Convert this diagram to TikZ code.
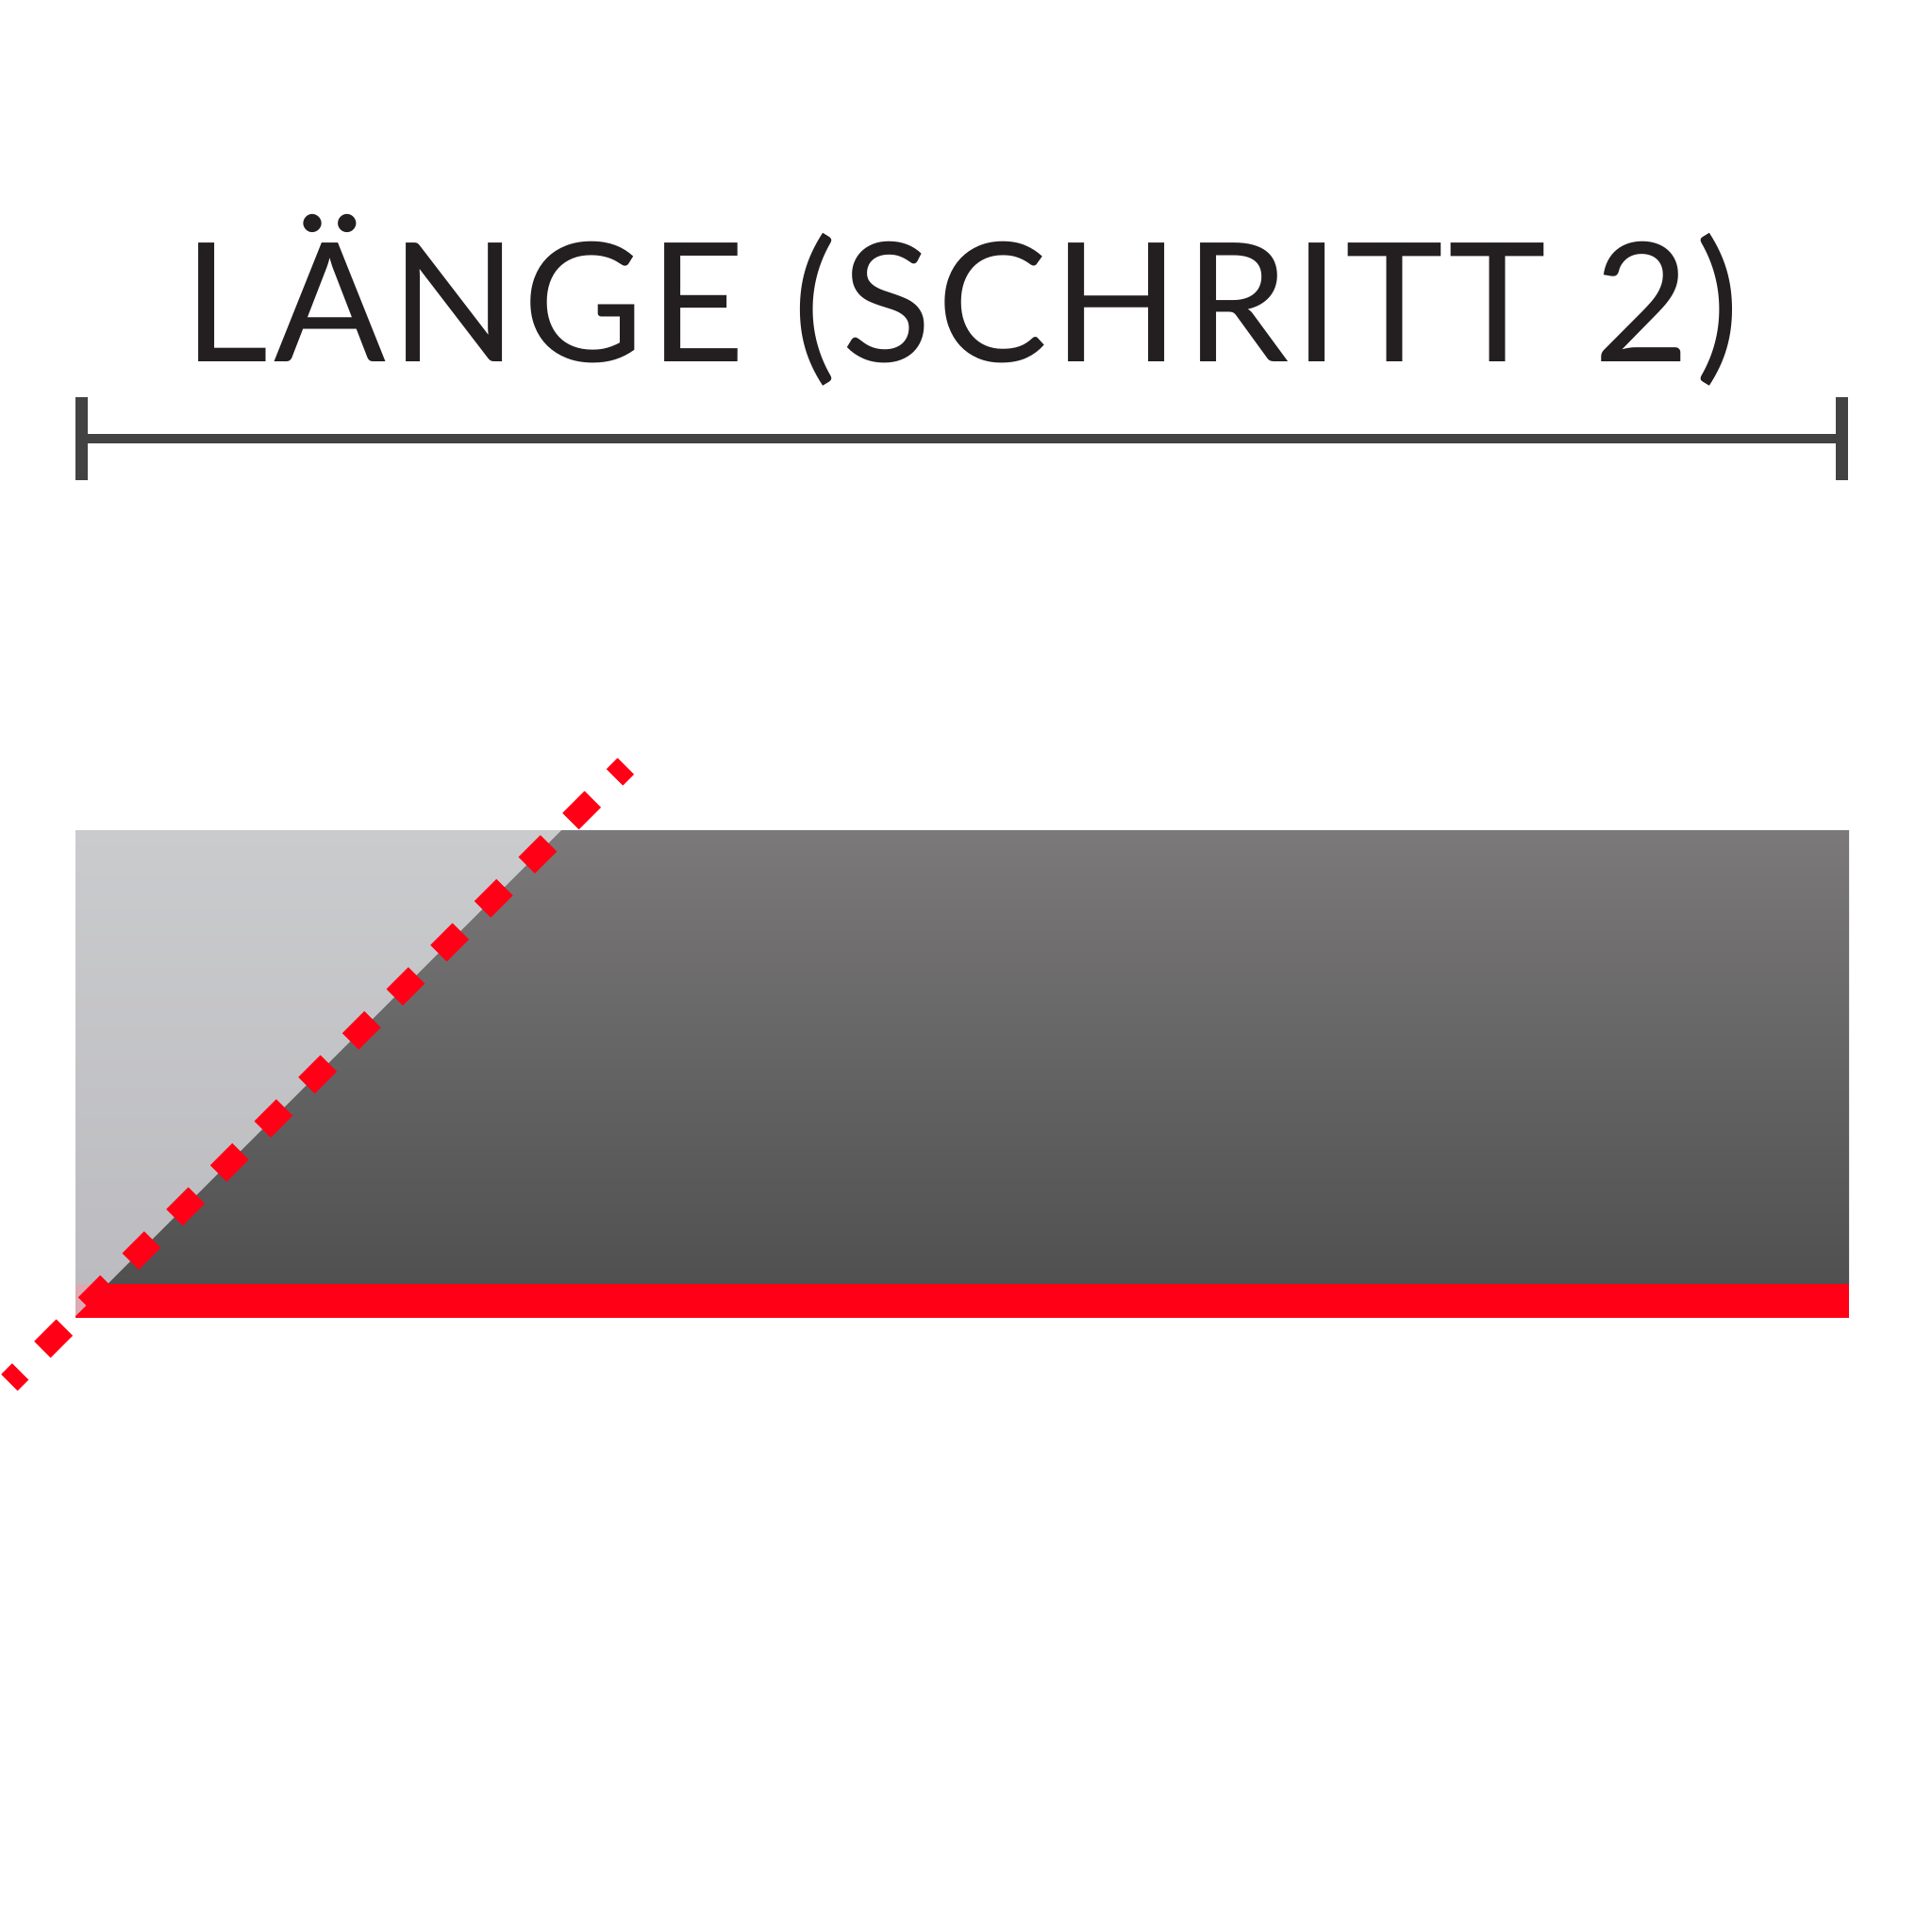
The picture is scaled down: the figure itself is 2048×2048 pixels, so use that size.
\documentclass[tikz,border=0pt]{standalone}
\usepackage{fontspec}
\setmainfont{Lato}
\definecolor{txtblack}{HTML}{231F20}
\definecolor{dimgray}{HTML}{424242}
\definecolor{darktop}{HTML}{7B797A}
\definecolor{darkbot}{HTML}{505050}
\definecolor{lighttop}{HTML}{CACBCD}
\definecolor{lightbot}{HTML}{BCBCC0}
\definecolor{barred}{HTML}{FF0016}
\definecolor{barpink}{HTML}{DDAAB3}
\tikzset{
    dimline/.style={draw=dimgray, line width=0.93mm},
    dimtick/.style={draw=dimgray, line width=1.33mm},
    reddash/.style={draw=barred, line width=2.45mm,
        dash pattern=on 3.3mm off 3.3mm, dash phase=1.65mm}
}

\begin{document}
\begin{tikzpicture}[x=0.1mm, y=-0.1mm]
    \useasboundingbox (0,0) rectangle (2048,2048);
    \node[anchor=base, text=txtblack, font=\fontsize{50}{60}\selectfont\addfontfeature{LetterSpace=3.1}, inner sep=0pt] (title) at (1019,384) {LÄNGE (SCHRITT 2)};
    \coordinate (dimL) at (86.5,465);
    \coordinate (dimR) at (1952.5,465);
    \draw[dimline] (dimL) -- (dimR);
    \draw[dimtick] ([yshift=-4.4mm]dimL) -- ([yshift=4.4mm]dimL);
    \draw[dimtick] ([yshift=-4.4mm]dimR) -- ([yshift=4.4mm]dimR);
    \shade[top color=darktop, bottom color=darkbot] (80,880) rectangle (1960,1361);
    \shade[top color=lighttop, bottom color=lightbot] (80,880) -- (595,880) -- (114,1361) -- (80,1361) -- cycle;
    \fill[barred] (80,1361) rectangle (1960,1397);
    \fill[barpink] (80,1361) -- (114,1361) -- (80,1395) -- cycle;
    \coordinate (cutA) at (9.95,1465.6);
    \coordinate (cutB) at (663.35,812.2);
    \draw[reddash] (cutA) -- (cutB);
\end{tikzpicture}
\end{document}
